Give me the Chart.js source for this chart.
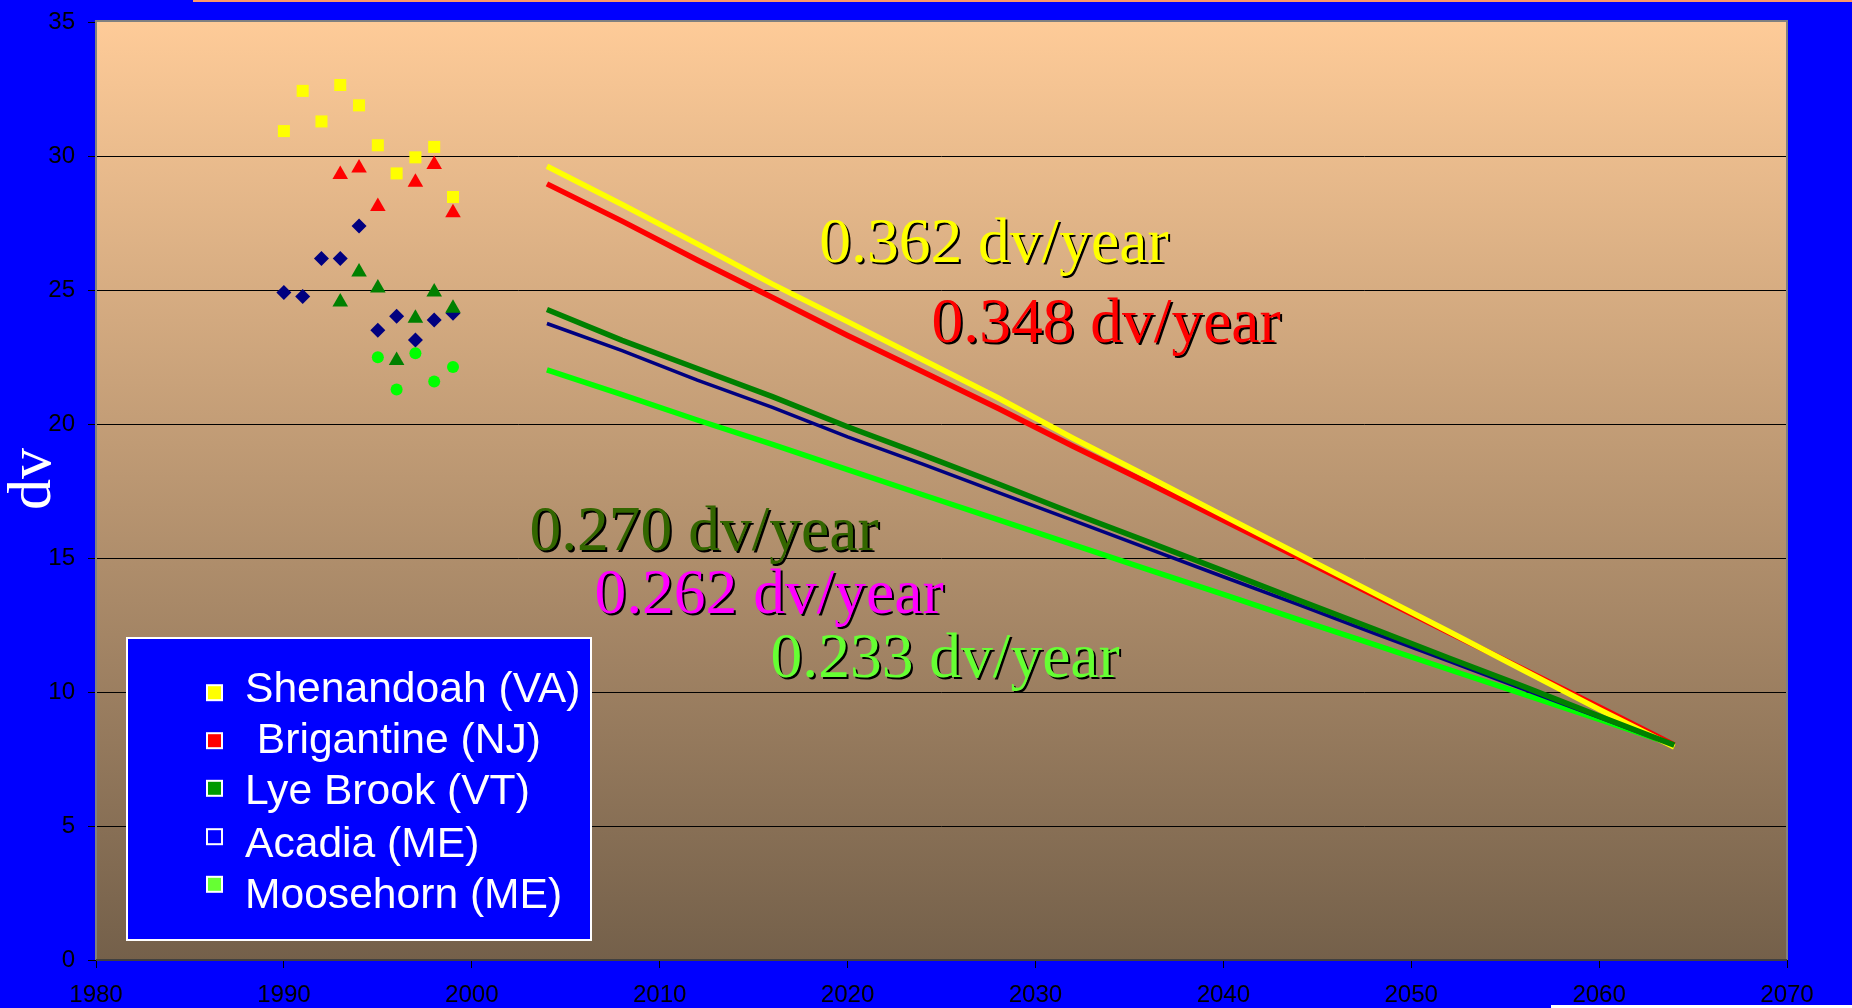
<!DOCTYPE html>
<html>
<head>
<meta charset="utf-8">
<script src="https://cdn.jsdelivr.net/npm/chart.js@4.4.0/dist/chart.umd.min.js"></script>
<style>
html,body{margin:0;padding:0;background:#0000FF;overflow:hidden}
#wrap{position:relative;width:1852px;height:1008px}
</style>
</head>
<body>
<div id="wrap"><canvas id="c"></canvas></div>
<script>
// ---- data ----
const histYears = [1990, 1991, 1992, 1993, 1994, 1995, 1996, 1997, 1998, 1999];
const shenandoahHist = [30.93, 32.43, 31.29, 32.65, 31.89, 30.40, 29.35, 29.95, 30.34, 28.47];
const brigantineHist = [null, null, null, 29.31, 29.55, 28.12, null, 29.02, 29.68, 27.88];
const lyeBrookHist   = [null, null, null, 24.55, 25.67, 25.07, 22.37, 23.95, 24.93, 24.32];
const acadiaHist     = [24.91, 24.76, 26.18, 26.18, 27.39, 23.50, 24.02, 23.13, 23.88, 24.13];
const moosehornHist  = [null, null, null, null, null, 22.49, 21.29, 22.64, 21.59, 22.13];

const projYears = [2004, 2008, 2012, 2016, 2020, 2024, 2028, 2032, 2036, 2040, 2044, 2048, 2052, 2056, 2060, 2064];
const shenandoahProj = [29.62, 28.19, 26.72, 25.22, 23.82, 22.40, 20.98, 19.47, 18.03, 16.58, 15.14, 13.70, 12.26, 10.80, 9.35, 7.95];
const brigantineProj = [28.96, 27.57, 26.12, 24.72, 23.30, 21.95, 20.59, 19.17, 17.80, 16.41, 15.02, 13.62, 12.22, 10.84, 9.44, 8.02];
const lyeBrookProj   = [24.27, 23.12, 22.07, 21.02, 19.90, 18.85, 17.77, 16.67, 15.60, 14.52, 13.43, 12.36, 11.27, 10.20, 9.10, 8.02];
const acadiaProj     = [23.75, 22.74, 21.64, 20.62, 19.52, 18.50, 17.45, 16.40, 15.35, 14.30, 13.26, 12.20, 11.15, 10.10, 9.05, 8.00];
const moosehornProj  = [22.02, 21.10, 20.15, 19.24, 18.30, 17.36, 16.43, 15.50, 14.57, 13.64, 12.70, 11.78, 10.84, 9.91, 8.98, 8.03];

const seriesNames = ['Shenandoah (VA)', ' Brigantine (NJ)', 'Lye Brook (VT)', 'Acadia (ME)', 'Moosehorn (ME)'];
const rateLabels = ['0.362 dv/year', '0.348 dv/year', '0.270 dv/year', '0.262 dv/year', '0.233 dv/year'];
const xTickValues = [1980, 1990, 2000, 2010, 2020, 2030, 2040, 2050, 2060, 2070];
const yTickValues = [0, 5, 10, 15, 20, 25, 30, 35];
const yAxisTitle = 'dv';

// ---- styling / placement (not data) ----
const rateLabelPos = [
  {x: 2018.50, y: 26.04, color: '#FFFF00'},
  {x: 2024.47, y: 23.06, color: '#FF0000'},
  {x: 2003.07, y: 15.30, color: '#336600'},
  {x: 2006.53, y: 12.95, color: '#FF00FF'},
  {x: 2015.90, y: 10.56, color: '#66FF33'}
];
const legendSwatch = ['#FFFF00', '#FF0000', '#009900', '#0000FF', '#66FF33'];

function pts(xs, ys) {
  const out = [];
  xs.forEach((x, i) => { if (ys[i] !== null && ys[i] !== undefined) out.push({x: x, y: ys[i]}); });
  return out;
}

const datasets = [
  {label: 'Shenandoah hist', data: pts(histYears, shenandoahHist), pointStyle: 'rect', pointRadius: 8.5, backgroundColor: '#FFFF00', borderColor: '#FFFF00', borderWidth: 0, order: 10},
  {label: 'Brigantine hist', data: pts(histYears, brigantineHist), pointStyle: 'triangle', pointRadius: 9, backgroundColor: '#FF0000', borderColor: '#FF0000', borderWidth: 0, order: 9},
  {label: 'Acadia hist', data: pts(histYears, acadiaHist), pointStyle: 'rectRot', pointRadius: 7.5, backgroundColor: '#000080', borderColor: '#000080', borderWidth: 0, order: 8},
  {label: 'Lye Brook hist', data: pts(histYears, lyeBrookHist), pointStyle: 'triangle', pointRadius: 9, backgroundColor: '#008000', borderColor: '#008000', borderWidth: 0, order: 7},
  {label: 'Moosehorn hist', data: pts(histYears, moosehornHist), pointStyle: 'circle', pointRadius: 6, backgroundColor: '#00FF00', borderColor: '#00FF00', borderWidth: 0, order: 6},
  {label: 'Moosehorn proj', data: pts(projYears, moosehornProj), showLine: true, pointRadius: 0, borderColor: '#00FF00', borderWidth: 5.5, order: 5},
  {label: 'Acadia proj', data: pts(projYears, acadiaProj), showLine: true, pointRadius: 0, borderColor: '#000080', borderWidth: 3.5, order: 4},
  {label: 'Brigantine proj', data: pts(projYears, brigantineProj), showLine: true, pointRadius: 0, borderColor: '#FF0000', borderWidth: 5.5, order: 3},
  {label: 'Shenandoah proj', data: pts(projYears, shenandoahProj), showLine: true, pointRadius: 0, borderColor: '#FFFF00', borderWidth: 5.5, order: 2},
  {label: 'Lye Brook proj', data: pts(projYears, lyeBrookProj), showLine: true, pointRadius: 0, borderColor: '#008000', borderWidth: 5.5, order: 1}
];

const decor = {
  id: 'decor',
  beforeDraw(chart) {
    const ctx = chart.ctx, a = chart.chartArea;
    ctx.save();
    ctx.fillStyle = '#0000FF';
    ctx.fillRect(0, 0, chart.width, chart.height);
    const g = ctx.createLinearGradient(0, a.top, 0, a.bottom);
    g.addColorStop(0, '#FECB98');
    g.addColorStop(1, '#74604A');
    ctx.fillStyle = g;
    ctx.fillRect(a.left, a.top, a.right - a.left, a.bottom - a.top);
    ctx.restore();
  },
  afterDraw(chart) {
    const ctx = chart.ctx, a = chart.chartArea;
    const xs = chart.scales.x, ys = chart.scales.y;
    ctx.save();
    // plot border
    ctx.strokeStyle = '#808080';
    ctx.lineWidth = 2;
    ctx.beginPath();
    ctx.moveTo(a.left, a.bottom); ctx.lineTo(a.left, a.top - 1); ctx.lineTo(a.right, a.top - 1); ctx.lineTo(a.right, a.bottom);
    ctx.stroke();
    ctx.strokeStyle = '#404040';
    ctx.beginPath(); ctx.moveTo(a.left, a.bottom); ctx.lineTo(a.right, a.bottom); ctx.stroke();

    // rate annotations
    ctx.font = '63.5px "Liberation Serif", "Times New Roman", serif';
    ctx.textAlign = 'left';
    ctx.textBaseline = 'alphabetic';
    rateLabels.forEach((t, i) => {
      const p = rateLabelPos[i];
      const px = xs.getPixelForValue(p.x), py = ys.getPixelForValue(p.y);
      ctx.fillStyle = '#000000';
      ctx.fillText(t, px + 2, py + 2);
      ctx.fillStyle = p.color;
      ctx.fillText(t, px, py);
    });

    // legend
    ctx.fillStyle = '#FFFFFF';
    ctx.fillRect(126, 637, 466, 304);
    ctx.fillStyle = '#0000FF';
    ctx.fillRect(128, 639, 462, 300);
    const swY = [692.7, 740.7, 788.3, 836.7, 884.3];
    const txY = [702, 753, 804, 857, 908];
    ctx.font = '42.6px "Liberation Sans", Arial, sans-serif';
    ctx.textBaseline = 'alphabetic';
    seriesNames.forEach((n, i) => {
      ctx.fillStyle = '#FFFFFF';
      ctx.fillRect(206, swY[i] - 8.5, 17, 17);
      ctx.fillStyle = legendSwatch[i];
      ctx.fillRect(208, swY[i] - 6.5, 13, 13);
      ctx.fillStyle = '#FFFFFF';
      ctx.fillText(n, 245, txY[i]);
    });

    // y axis title
    ctx.save();
    ctx.translate(34, 479);
    ctx.rotate(-Math.PI / 2);
    ctx.font = '62px "Liberation Serif", "Times New Roman", serif';
    ctx.textAlign = 'center';
    ctx.textBaseline = 'middle';
    ctx.fillStyle = '#FFFFFF';
    ctx.fillText(yAxisTitle, 0, 0);
    ctx.restore();

    // top orange strip and bottom white strip
    ctx.fillStyle = '#FF9966';
    ctx.fillRect(193, 0, chart.width - 193, 2);
    ctx.fillStyle = '#FFFFFF';
    ctx.fillRect(1551, 1005, chart.width - 1551, 3);
    ctx.restore();
  }
};

new Chart(document.getElementById('c'), {
  type: 'scatter',
  data: {datasets: datasets},
  options: {
    responsive: true,
    maintainAspectRatio: false,
    animation: false,
    events: [],
    devicePixelRatio: 1,
    layout: {padding: {top: 22, right: 65, left: 0, bottom: 0}},
    plugins: {legend: {display: false}, tooltip: {enabled: false}, title: {display: false}},
    scales: {
      x: {
        type: 'linear',
        min: xTickValues[0], max: xTickValues[xTickValues.length - 1],
        afterBuildTicks: s => { s.ticks = xTickValues.map(v => ({value: v})); },
        afterFit: s => { s.height = 48; s.paddingLeft = 0; s.paddingRight = 0; },
        grid: {drawOnChartArea: false, drawTicks: true, tickLength: 8, tickColor: '#000000', tickWidth: 1},
        border: {display: false},
        ticks: {color: '#000000', padding: 13, maxRotation: 0, autoSkip: false,
                font: {family: '"Liberation Sans", Arial, sans-serif', size: 24},
                callback: v => String(v)}
      },
      y: {
        type: 'linear',
        min: yTickValues[0], max: yTickValues[yTickValues.length - 1],
        afterBuildTicks: s => { s.ticks = yTickValues.map(v => ({value: v})); },
        afterFit: s => { s.width = 96; s.paddingTop = 0; s.paddingBottom = 0; },
        grid: {
          drawOnChartArea: true, drawTicks: true, tickLength: 8, tickColor: '#000000', tickWidth: 1, lineWidth: 1,
          color: c => (c.tick && (c.tick.value === 0 || c.tick.value === 35)) ? 'rgba(0,0,0,0)' : '#000000'
        },
        border: {display: false},
        ticks: {color: '#000000', padding: 13, autoSkip: false,
                font: {family: '"Liberation Sans", Arial, sans-serif', size: 24},
                callback: v => String(v)}
      }
    }
  },
  plugins: [decor]
});
</script>
</body>
</html>
